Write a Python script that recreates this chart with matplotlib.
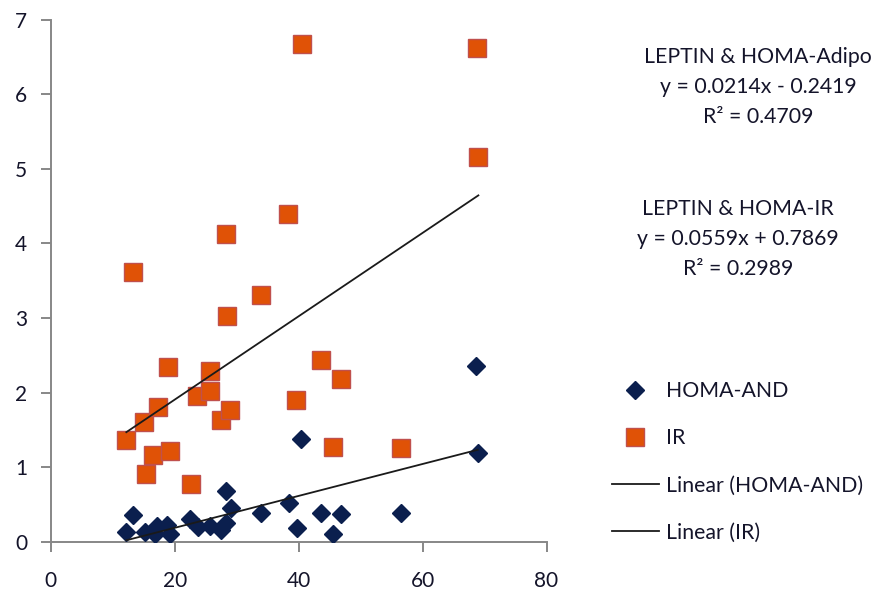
import matplotlib
matplotlib.use("Agg")
import numpy as np
import matplotlib.pyplot as plt

plt.rcParams['font.family'] = ['Lato', 'DejaVu Sans']

# LEPTIN (x) vs HOMA-AND
and_x = [12.2, 13.3, 15.2, 16.8, 17.1, 18.7, 19.2, 22.5, 23.7, 25.7, 27.5, 28.3,
         29.1, 28.3, 33.9, 38.4, 39.7, 40.4, 43.6, 45.6, 46.9, 56.5, 68.6, 68.9]
and_y = [0.13, 0.36, 0.13, 0.11, 0.21, 0.23, 0.11, 0.31, 0.20, 0.21, 0.16, 0.25,
         0.45, 0.68, 0.38, 0.52, 0.18, 1.38, 0.38, 0.11, 0.37, 0.39, 2.36, 1.19]

# LEPTIN (x) vs HOMA-IR
ir_x = [12.2, 13.3, 15.0, 15.4, 16.5, 17.3, 18.9, 19.2, 22.7, 23.6, 25.7, 25.7, 27.5,
        28.4, 28.3, 28.9, 33.9, 38.3, 39.6, 40.5, 43.6, 45.6, 46.9, 56.5, 68.7, 69.0]
ir_y = [1.37, 3.61, 1.60, 0.91, 1.16, 1.80, 2.34, 1.21, 0.78, 1.95, 2.02, 2.29, 1.63,
        3.03, 4.13, 1.77, 3.31, 4.40, 1.90, 6.67, 2.44, 1.27, 2.18, 1.25, 6.62, 5.16]

# trendline coefficients (slope, intercept, R2)
and_fit = (0.0214, -0.2419, 0.4709)
ir_fit = (0.0559, 0.7869, 0.2989)

txt_col = '#14142a'
fs = 15.3

fig = plt.figure(figsize=(8.76, 5.93), dpi=100)
ax = fig.add_axes([0.0579, 0.0865, 0.566, 0.8803])

ax.plot(and_x, and_y, linestyle='none', marker='D', markersize=9.5,
        color='#0b1f4e', markeredgecolor='#0b1f4e', label='HOMA-AND', zorder=3)
ax.plot(ir_x, ir_y, linestyle='none', marker='s', markersize=13,
        color='#e05206', markeredgecolor='#c0504d', markeredgewidth=1.0, label='IR', zorder=3)

xa = np.array([min(and_x), max(and_x)])
ax.plot(xa, and_fit[0] * xa + and_fit[1], color='#1a1a1a', lw=1.3,
        label='Linear (HOMA-AND)', zorder=4)
xi = np.array([min(ir_x), max(ir_x)])
ax.plot(xi, ir_fit[0] * xi + ir_fit[1], color='#1a1a1a', lw=1.3,
        label='Linear (IR)', zorder=4)

ax.set_xlim(0, 80)
ax.set_ylim(0, 7)
ax.set_xticks([0, 20, 40, 60, 80])
ax.set_yticks(range(0, 8))
for s in ['top', 'right']:
    ax.spines[s].set_visible(False)
for s in ['left', 'bottom']:
    ax.spines[s].set_color('#878787')
    ax.spines[s].set_linewidth(1.4)
ax.tick_params(axis='both', direction='out', length=7, width=1.4, color='#878787',
               labelsize=15, labelcolor=txt_col)
ax.tick_params(axis='y', pad=10)
ax.tick_params(axis='x', pad=14)

# equation boxes
fig.text(758 / 876, 1 - 87 / 593,
         'LEPTIN & HOMA-Adipo\ny = 0.0214x - 0.2419\nR² = 0.4709',
         ha='center', va='center', fontsize=fs, color=txt_col, linespacing=1.62)
fig.text(738 / 876, 1 - 239 / 593,
         'LEPTIN & HOMA-IR\ny = 0.0559x + 0.7869\nR² = 0.2989',
         ha='center', va='center', fontsize=fs, color=txt_col, linespacing=1.62)

leg = fig.legend(loc='upper left', bbox_to_anchor=(612 / 876, 1 - 381 / 593),
                 frameon=False, fontsize=fs, labelspacing=1.28, handlelength=2.2,
                 handletextpad=0.35, borderpad=0, borderaxespad=0, numpoints=1)
for t in leg.get_texts():
    t.set_color(txt_col)

fig.savefig('out.png', dpi=100)
